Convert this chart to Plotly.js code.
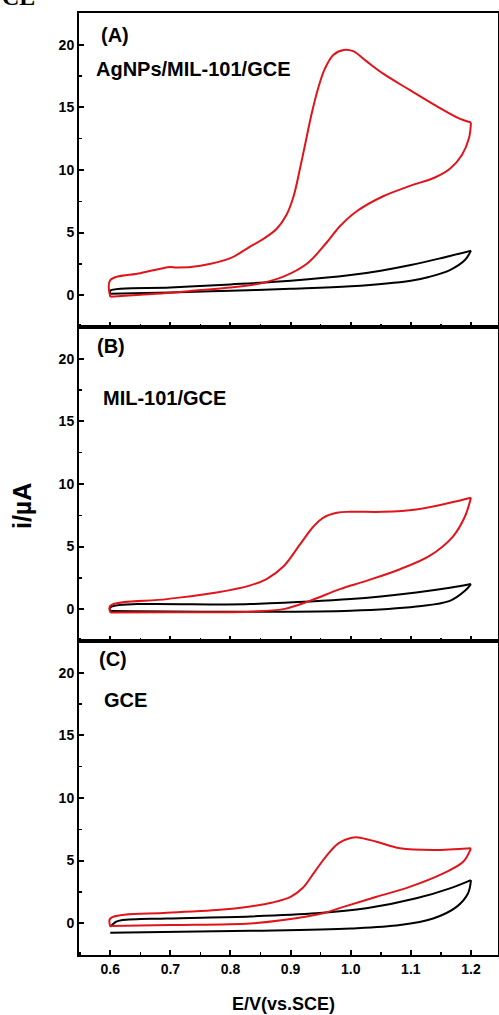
<!DOCTYPE html>
<html>
<head>
<meta charset="utf-8">
<script src="https://cdn.plot.ly/plotly-3.0.1.min.js"></script>
<style>html,body{margin:0;padding:0;background:#fff;}#chart{width:499px;height:1015px;}</style>
</head>
<body>
<div id="chart"></div>
<script>
// ---- Panel A: AgNPs/MIL-101/GCE ----
const redA_up_E = [0.6, 0.6, 0.65, 0.7, 0.71, 0.75, 0.8, 0.83, 0.855, 0.877, 0.893, 0.905, 0.916, 0.927, 0.935, 0.945, 0.957, 0.971, 0.988, 1.004, 1.026, 1.054, 1.098, 1.143, 1.181, 1.2];
const redA_up_i = [-0.13, 1.2, 1.75, 2.25, 2.2, 2.35, 2.95, 3.8, 4.5, 5.3, 6.4, 7.9, 10.2, 12.7, 14.5, 16.4, 18.1, 19.2, 19.6, 19.5, 18.7, 17.7, 16.4, 15.1, 14.1, 13.8];
const redA_dn_E = [1.2, 1.197, 1.185, 1.165, 1.14, 1.1, 1.054, 1.01, 0.982, 0.96, 0.927, 0.888, 0.849, 0.8, 0.75, 0.7, 0.65, 0.6];
const redA_dn_i = [13.8, 12.6, 11.2, 10.1, 9.4, 8.75, 7.9, 6.7, 5.5, 4.2, 2.5, 1.47, 0.93, 0.6, 0.4, 0.18, 0.02, -0.13];
const blkA_up_E = [0.6, 0.6, 0.7, 0.8, 0.9, 1.0, 1.05, 1.1, 1.15, 1.2];
const blkA_up_i = [0.1, 0.35, 0.6, 0.85, 1.15, 1.6, 1.95, 2.4, 2.95, 3.55];
const blkA_dn_E = [1.2, 1.19, 1.165, 1.13, 1.1, 1.0, 0.9, 0.8, 0.7, 0.6];
const blkA_dn_i = [3.55, 2.8, 2.0, 1.45, 1.15, 0.7, 0.5, 0.35, 0.2, 0.1];

// ---- Panel B: MIL-101/GCE ----
const redB_up_E = [0.6, 0.6, 0.694, 0.777, 0.833, 0.86, 0.888, 0.916, 0.938, 0.954, 0.977, 1.0, 1.054, 1.109, 1.165, 1.2];
const redB_up_i = [-0.27, 0.27, 0.8, 1.33, 1.9, 2.4, 3.4, 5.2, 6.6, 7.3, 7.7, 7.78, 7.78, 7.97, 8.5, 8.9];
const redB_dn_E = [1.2, 1.19, 1.17, 1.131, 1.082, 1.026, 0.982, 0.932, 0.888, 0.833, 0.7, 0.6];
const redB_dn_i = [8.9, 7.4, 5.8, 4.25, 3.19, 2.26, 1.6, 0.66, 0.0, -0.2, -0.25, -0.27];
const blkB_up_E = [0.6, 0.6, 0.833, 1.0, 1.109, 1.165, 1.2];
const blkB_up_i = [-0.15, 0.13, 0.4, 0.8, 1.33, 1.7, 2.0];
const blkB_dn_E = [1.2, 1.19, 1.165, 1.109, 1.0, 0.833, 0.6];
const blkB_dn_i = [2.0, 1.46, 0.66, 0.21, -0.13, -0.21, -0.15];

// ---- Panel C: GCE ----
const redC_up_E = [0.6, 0.6, 0.694, 0.777, 0.833, 0.87, 0.9, 0.92, 0.94, 0.96, 0.98, 1.0, 1.012, 1.043, 1.082, 1.137, 1.2];
const redC_up_i = [-0.24, 0.37, 0.82, 1.04, 1.33, 1.65, 2.1, 2.8, 4.1, 5.4, 6.4, 6.8, 6.85, 6.5, 5.98, 5.84, 5.98];
const redC_dn_E = [1.2, 1.187, 1.154, 1.098, 1.043, 0.988, 0.954, 0.888, 0.833, 0.7, 0.6];
const redC_dn_i = [5.98, 4.9, 3.98, 2.9, 2.1, 1.3, 0.78, 0.24, -0.03, -0.16, -0.24];
const blkC_up_E = [0.6, 0.61, 0.62, 0.694, 0.833, 0.943, 1.026, 1.109, 1.165, 1.2];
const blkC_up_i = [-0.3, 0.12, 0.24, 0.37, 0.53, 0.78, 1.18, 1.98, 2.78, 3.44];
const blkC_dn_E = [1.2, 1.195, 1.176, 1.137, 1.082, 1.0, 0.833, 0.6];
const blkC_dn_i = [3.44, 2.37, 1.3, 0.37, -0.16, -0.43, -0.62, -0.78];

const panelLabels = ['(A)', '(B)', '(C)'];
const electrodeNames = ['AgNPs/MIL-101/GCE', 'MIL-101/GCE', 'GCE'];
const xTickVals = [0.6, 0.7, 0.8, 0.9, 1.0, 1.1, 1.2];
const xTickText = ['0.6', '0.7', '0.8', '0.9', '1.0', '1.1', '1.2'];
const yTickVals = [0, 5, 10, 15, 20];
const yTickText = ['0', '5', '10', '15', '20'];

const RED = '#e0141b', BLK = '#000000';
function tr(x, y, color, ax) {
  return {x: x, y: y, type: 'scatter', mode: 'lines', xaxis: ax[0], yaxis: ax[1],
    line: {color: color, width: 2, shape: 'spline', smoothing: 1}, hoverinfo: 'skip', showlegend: false};
}
const axA = ['x', 'y'], axB = ['x2', 'y2'], axC = ['x3', 'y3'];
const data = [
  tr(blkA_up_E, blkA_up_i, BLK, axA), tr(blkA_dn_E, blkA_dn_i, BLK, axA),
  tr(redA_up_E, redA_up_i, RED, axA), tr(redA_dn_E, redA_dn_i, RED, axA),
  tr(blkB_up_E, blkB_up_i, BLK, axB), tr(blkB_dn_E, blkB_dn_i, BLK, axB),
  tr(redB_up_E, redB_up_i, RED, axB), tr(redB_dn_E, redB_dn_i, RED, axB),
  tr(blkC_up_E, blkC_up_i, BLK, axC), tr(blkC_dn_E, blkC_dn_i, BLK, axC),
  tr(redC_up_E, redC_up_i, RED, axC), tr(redC_dn_E, redC_dn_i, RED, axC)
];

const FONT = 'Arial, "Liberation Sans", sans-serif';
const bold = s => '<b>' + s + '</b>';
function xax(anchor, labels) {
  return {anchor: anchor, domain: [0, 1], range: [0.548, 1.245], showline: true, mirror: true,
    linewidth: 2, linecolor: '#000', ticks: 'inside', ticklen: 5, tickwidth: 2, tickcolor: '#000',
    tickmode: 'array', tickvals: xTickVals, ticktext: xTickText.map(bold), showticklabels: labels,
    minor: {tickmode: 'linear', tick0: 0.6, dtick: 0.05, ticks: 'inside', ticklen: 3, tickwidth: 1.5, tickcolor: '#000', showgrid: false},
    showgrid: false, zeroline: false, fixedrange: true,
    tickfont: {family: FONT, size: 14, color: '#000'}};
}
function yax(anchor, domain) {
  return {anchor: anchor, domain: domain, range: [-2.55, 22.55], showline: true, mirror: true,
    linewidth: 2, linecolor: '#000', ticks: 'inside', ticklen: 5, tickwidth: 2, tickcolor: '#000',
    tickmode: 'array', tickvals: yTickVals, ticktext: yTickText.map(bold),
    minor: {tickmode: 'linear', tick0: 0, dtick: 2.5, ticks: 'inside', ticklen: 3, tickwidth: 1.5, tickcolor: '#000', showgrid: false},
    showgrid: false, zeroline: false, fixedrange: true,
    tickfont: {family: FONT, size: 14, color: '#000'}};
}
function ann(text, xr, yr, x, y, size, extra) {
  return Object.assign({text: bold(text), xref: xr, yref: yr, x: x, y: y, xanchor: 'left', yanchor: 'middle',
    showarrow: false, font: {family: FONT, size: size, color: '#000'}}, extra || {});
}
const layout = {
  width: 499, height: 1015,
  margin: {l: 79, r: 1, t: 13, b: 60},
  paper_bgcolor: '#fff', plot_bgcolor: '#fff',
  showlegend: false,
  xaxis: xax('y', false), yaxis: yax('x', [0.6667, 1]),
  xaxis2: xax('y2', false), yaxis2: yax('x2', [0.3333, 0.6667]),
  xaxis3: xax('y3', true), yaxis3: yax('x3', [0, 0.3333]),
  annotations: [
    ann(panelLabels[0], 'x domain', 'y domain', 0.048, 0.93, 20),
    ann(electrodeNames[0], 'x domain', 'y domain', 0.036, 0.822, 20),
    ann(panelLabels[1], 'x2 domain', 'y2 domain', 0.038, 0.94, 20),
    ann(electrodeNames[1], 'x2 domain', 'y2 domain', 0.053, 0.773, 20),
    ann(panelLabels[2], 'x3 domain', 'y3 domain', 0.043, 0.943, 20),
    ann(electrodeNames[2], 'x3 domain', 'y3 domain', 0.055, 0.812, 20),
    ann('E/V(vs.SCE)', 'paper', 'paper', 0.487, -0.052, 18, {xanchor: 'center'}),
    ann('i/µA', 'paper', 'paper', -0.136, 0.4766, 25, {xanchor: 'center', textangle: -90}),
    ann('CE', 'paper', 'paper', -0.1885, 1.0165, 24, {font: {family: '"Liberation Serif", "Times New Roman", serif', size: 24, color: '#000'}})
  ]
};
Plotly.newPlot('chart', data, layout, {staticPlot: true, displayModeBar: false});
</script>
</body>
</html>
